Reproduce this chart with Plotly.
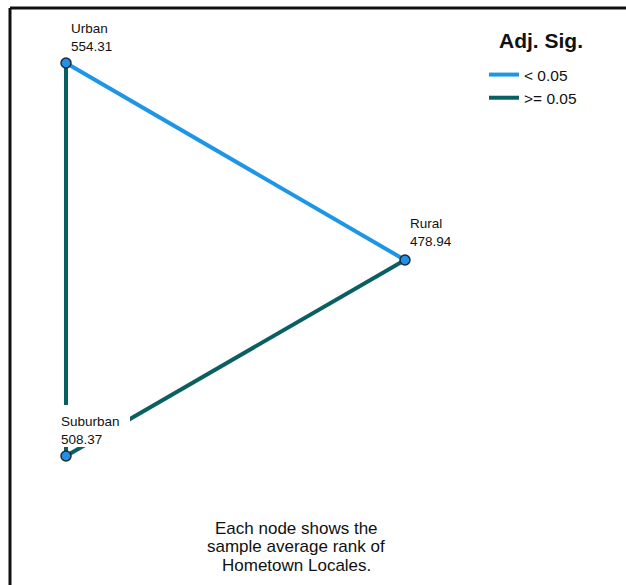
import plotly.graph_objects as go

# ---- data ----
node_names = ["Urban", "Rural", "Suburban"]
node_ranks = [554.31, 478.94, 508.37]
# network layout positions of the nodes (diagram units)
node_x = [66, 405, 66]
node_y = [63, 260, 456]
edge_from = ["Urban", "Urban", "Rural"]
edge_to = ["Rural", "Suburban", "Suburban"]
edge_sig = ["< 0.05", ">= 0.05", ">= 0.05"]
sig_levels = ["< 0.05", ">= 0.05"]
note_lines = ["Each node shows the", "sample average rank of", "Hometown Locales."]
legend_title = "Adj. Sig."

# ---- styles ----
W, H = 626, 585
FONT = "Liberation Sans, Arial, sans-serif"
sig_colors = {"< 0.05": "#1e96e8", ">= 0.05": "#0a5f60"}
# (x offset of text left edge, lift of label block above node)
label_offsets = {"Urban": (5, 9), "Rural": (5, 11), "Suburban": (-5, 9.5)}
note_center_x = 296
note_line_y = [528, 546.5, 565.5]

idx = {n: i for i, n in enumerate(node_names)}
fig = go.Figure()

for lvl in sig_levels:
    xs, ys = [], []
    for a, b, s in zip(edge_from, edge_to, edge_sig):
        if s != lvl:
            continue
        xs += [node_x[idx[a]], node_x[idx[b]], None]
        ys += [node_y[idx[a]], node_y[idx[b]], None]
    fig.add_trace(go.Scatter(
        x=xs, y=ys, mode="lines", name=lvl,
        line=dict(color=sig_colors[lvl], width=4),
        hoverinfo="skip",
    ))

fig.add_trace(go.Scatter(
    x=node_x, y=node_y, mode="markers", showlegend=False,
    marker=dict(size=10, color="#2290e4", line=dict(color="#1c2a3a", width=1.5)),
    text=node_names, hoverinfo="text",
))

for n, r, x, y in zip(node_names, node_ranks, node_x, node_y):
    dx, lift = label_offsets[n]
    # white label background that masks the edges beneath the text
    fig.add_shape(type="rect", xref="x", yref="y", layer="above",
                  x0=x + dx - 3, x1=x + dx + 69, y0=y - 51, y1=y - 9,
                  fillcolor="white", line=dict(width=0))
    fig.add_annotation(
        x=x, y=y, xref="x", yref="y", text=f"{n}<br>{r:.2f}", showarrow=False,
        xanchor="left", yanchor="bottom", align="left",
        xshift=dx - 1, yshift=lift - 1, borderpad=0,
        font=dict(family=FONT, size=13.5, color="#111111"),
    )

for line, ly in zip(note_lines, note_line_y):
    fig.add_annotation(
        x=note_center_x, y=ly, xref="x", yref="y", text=line, showarrow=False,
        xanchor="center", yanchor="middle",
        font=dict(family=FONT, size=17, color="#111111"),
    )

# legend title
fig.add_annotation(
    x=541 / W, y=1 - 41 / H, xref="paper", yref="paper",
    text=f"<b>{legend_title}</b>", showarrow=False,
    xanchor="center", yanchor="middle",
    font=dict(family=FONT, size=21, color="#111111"),
)

# frame (left and top edges)
fig.add_shape(type="line", xref="paper", yref="paper", x0=10 / W, x1=10 / W,
              y0=0, y1=1 - 8 / H, line=dict(color="#111111", width=3))
fig.add_shape(type="line", xref="paper", yref="paper", x0=10 / W, x1=1,
              y0=1 - 8 / H, y1=1 - 8 / H, line=dict(color="#111111", width=3))

fig.update_layout(
    width=W, height=H, margin=dict(l=0, r=0, t=0, b=0),
    paper_bgcolor="white", plot_bgcolor="white",
    xaxis=dict(range=[0, W], visible=False, fixedrange=True),
    yaxis=dict(range=[H, 0], visible=False, fixedrange=True),
    showlegend=True,
    legend=dict(
        x=484 / W, y=1 - 58 / H, xanchor="left", yanchor="top",
        font=dict(family=FONT, size=15.5, color="#111111"),
        bgcolor="rgba(0,0,0,0)", itemwidth=30, tracegroupgap=0,
    ),
)

fig.write_html("out.html")
